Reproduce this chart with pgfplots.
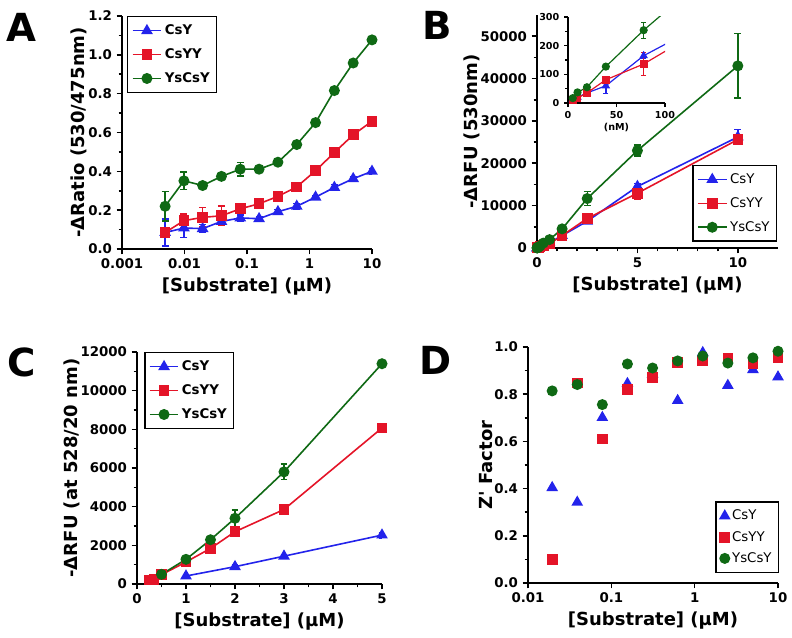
\documentclass[border=0pt]{standalone}
\usepackage{fontspec}
\setmainfont{DejaVu Sans}
\newfontfamily\plainfont[Ligatures=ResetAll]{DejaVu Sans}
\usepackage{pgfplots}
\usepackage{pgfplotstable}
\pgfplotsset{compat=1.18}
\definecolor{cblue}{RGB}{35,35,235}
\definecolor{cred}{RGB}{228,20,40}
\definecolor{cgreen}{RGB}{15,105,20}

\pgfplotstableread{
x      a      ea     b      eb     c      ec
0.0049 0.085  0.070  0.085  0.010  0.220  0.075
0.0098 0.108  0.050  0.146  0.035  0.351  0.045
0.0195 0.105  0.020  0.163  0.050  0.327  0.015
0.039  0.142  0.020  0.171  0.050  0.374  0.015
0.078  0.160  0.015  0.207  0.010  0.411  0.035
0.156  0.156  0.010  0.233  0.020  0.411  0.010
0.3125 0.192  0.010  0.271  0.010  0.447  0.010
0.625  0.220  0.015  0.320  0.010  0.538  0.010
1.25   0.267  0.010  0.403  0.010  0.651  0.010
2.5    0.317  0.015  0.497  0.010  0.816  0.010
5      0.362  0.012  0.588  0.010  0.958  0.010
10     0.400  0.015  0.658  0.010  1.077  0.010
}\dataA

\pgfplotstableread{
x      xn     a      ea     b      eb     c      ec
0.0049 4.9    12     3      9      2      17     3
0.0098 9.8    20     5      17     3      37     5
0.0195 19.5   35     5      35     5      55     8
0.039  39     60     28     81     12     127    8
0.078  78     165    10     136    40     254    28
0.156  156    305    20     292    20     480    30
0.3125 312.5  620    40     600    40     1150   60
0.625  625    1250   80     1020   80     1980   150
1.25   1250   2930   200    2930   150    4520   300
2.5    2500   6330   400    6980   500    11670  1600
5      5000   14520  700    12930  1500   23000  1300
10     10000  26200  1700   25600  800    43000  7600
}\dataB

\pgfplotstableread{
x    y     e
1    414   80
2    896   100
3    1440  80
5    2530  150
}\dataCa
\pgfplotstableread{
x    y     e
0.25 200   30
0.35 230   30
0.5  480   40
1    1140  60
1.5  1840  80
2    2705  100
3    3855  80
5    8072  80
}\dataCb
\pgfplotstableread{
x    y     e
0.5  500   40
1    1276  60
1.5  2290  150
2    3400  420
3    5800  400
5    11394 80
}\dataCc

\pgfplotstableread{
x      a      b      c
0.0195 0.404  0.099  0.814
0.039  0.342  0.848  0.841
0.078  0.701  0.610  0.756
0.156  0.845  0.821  0.928
0.3125 0.885  0.870  0.911
0.625  0.773  0.934  0.941
1.25   0.976  0.941  0.962
2.5    0.837  0.954  0.932
5      0.904  0.930  0.954
10     0.873  0.954  0.982
}\dataD

\pgfplotsset{
  panel/.style={
    scale only axis,
    axis x line*=bottom, axis y line*=left,
    axis line style={line width=1.4pt,-},
    tick align=outside,
    major tick length=4pt, minor tick length=2.5pt,
    tick style={black, line width=1.2pt},
    tick label style={font=\bfseries\fontsize{10}{12}\selectfont},
    label style={font=\bfseries\fontsize{13.5}{15}\selectfont},
    ylabel shift=-6pt,
    /pgf/number format/assume math mode=true,
    /pgf/number format/1000 sep={},
    scaled ticks=false,
    legend cell align=left,
    legend style={draw=black, line width=1.1pt, inner xsep=3pt, inner ysep=4pt,
      row sep=5pt, font=\fontsize{10}{12}\selectfont,
      /tikz/every even column/.append style={column sep=2pt}},
    legend image code/.code={\draw[mark repeat=2,mark phase=2] plot coordinates {(0cm,0cm) (0.38cm,0cm) (0.76cm,0cm)};},
    error bars/error bar style={line width=1pt, solid},
    error bars/error mark options={rotate=90, mark size=2.6pt, line width=1pt},
  },
  sA/.style={color=cblue, line width=1.2pt, mark=triangle*, mark size=3.9pt, mark options={solid}},
  sB/.style={color=cred, line width=1.2pt, mark=square*, mark size=3.4pt, mark options={solid}},
  sC/.style={color=cgreen, line width=1.2pt, mark=*, mark size=3.5pt, mark options={solid}},
}

\begin{document}
\begin{tikzpicture}
\path[use as bounding box] (0,0) rectangle (594pt,477.75pt);

% panel letters
\node[font=\bfseries\fontsize{29}{30}\selectfont] at (15.75pt,457.5pt) {A};
\node[font=\bfseries\fontsize{29}{30}\selectfont] at (327.75pt,459pt) {B};
\node[font=\bfseries\fontsize{29}{30}\selectfont] at (16.5pt,206.25pt) {C};
\node[font=\bfseries\fontsize{29}{30}\selectfont] at (327pt,207.75pt) {D};

% ---------- A ----------
\begin{axis}[panel,
  at={(91.5pt,291pt)}, anchor=south west,
  width=187.5pt, height=174.75pt,
  xmode=log, xmin=0.001, xmax=10, ymin=0, ymax=1.2,
  xtick={0.001,0.01,0.1,1,10}, xticklabels={0.001,0.01,0.1,1,10},
  xminorticks=false,
  ytick={0,0.2,...,1.2}, minor y tick num=1,
  yticklabel style={/pgf/number format/.cd, fixed, fixed zerofill, precision=1},
  xlabel={[Substrate] (µM)}, ylabel={-ΔRatio (530/475nm)},
  legend style={at={(0.02,1.0)}, anchor=north west, font=\bfseries\fontsize{10}{12}\selectfont},
]
\addplot[sA, error bars/.cd, y dir=both, y explicit] table[x=x, y=a, y error=ea] {\dataA};
\addlegendentry{CsY}
\addplot[sB, error bars/.cd, y dir=both, y explicit] table[x=x, y=b, y error=eb] {\dataA};
\addlegendentry{CsYY}
\addplot[sC, error bars/.cd, y dir=both, y explicit] table[x=x, y=c, y error=ec] {\dataA};
\addlegendentry{YsCsY}
\end{axis}

% ---------- B ----------
\begin{axis}[panel,
  at={(402.75pt,291.75pt)}, anchor=south west,
  width=180.75pt, height=174.75pt,
  xmin=0, xmax=12, ymin=0, ymax=55000,
  xtick={0,5,10}, minor x tick num=4,
  ytick={0,10000,...,50000}, minor y tick num=1,
  xlabel={[Substrate] (µM)}, ylabel={-ΔRFU (530nm)},
  legend style={at={(0.996,0.026)}, anchor=south east},
]
\addplot[sA, error bars/.cd, y dir=both, y explicit] table[x=x, y=a, y error=ea] {\dataB};
\addlegendentry{CsY}
\addplot[sB, error bars/.cd, y dir=both, y explicit] table[x=x, y=b, y error=eb] {\dataB};
\addlegendentry{CsYY}
\addplot[sC, error bars/.cd, y dir=both, y explicit] table[x=x, y=c, y error=ec] {\dataB};
\addlegendentry{YsCsY}
\end{axis}

% ---------- B inset ----------
\begin{axis}[panel,
  at={(426pt,400.5pt)}, anchor=south west,
  width=72.75pt, height=64.5pt,
  axis line style={line width=1.2pt,-},
  major tick length=3pt, minor tick length=2pt,
  tick style={black, line width=1pt},
  tick label style={font=\bfseries\fontsize{7.2}{8}\selectfont},
  ylabel shift=0pt,
  xmin=0, xmax=100, ymin=0, ymax=300,
  xtick={0,50,100}, ytick={0,100,200,300}, minor y tick num=1,
  xlabel={(nM)}, xlabel style={font=\bfseries\fontsize{7.2}{8}\selectfont, yshift=4pt},
  error bars/error mark options={rotate=90, mark size=1.8pt, line width=0.9pt},
]
\addplot[sA, mark size=2.8pt, line width=0.9pt, error bars/.cd, y dir=both, y explicit] table[x=xn, y=a, y error=ea] {\dataB};
\addplot[sB, mark size=2.5pt, line width=0.9pt, error bars/.cd, y dir=both, y explicit] table[x=xn, y=b, y error=eb] {\dataB};
\addplot[sC, mark size=2.6pt, line width=0.9pt, error bars/.cd, y dir=both, y explicit] table[x=xn, y=c, y error=ec] {\dataB};
\end{axis}

% ---------- C ----------
\begin{axis}[panel,
  at={(102.75pt,39.75pt)}, anchor=south west,
  width=183.75pt, height=174pt,
  xmin=0, xmax=5, ymin=0, ymax=12000,
  xtick={0,1,...,5}, minor x tick num=1,
  ytick={0,2000,...,12000}, minor y tick num=1,
  xlabel={[Substrate] (µM)}, ylabel={-ΔRFU (at 528/20 nm)},
  legend style={at={(0.029,1.0)}, anchor=north west, font=\bfseries\fontsize{10}{12}\selectfont},
]
\addplot[sA, error bars/.cd, y dir=both, y explicit] table[x=x, y=y, y error=e] {\dataCa};
\addlegendentry{CsY}
\addplot[sB, error bars/.cd, y dir=both, y explicit] table[x=x, y=y, y error=e] {\dataCb};
\addlegendentry{CsYY}
\addplot[sC, error bars/.cd, y dir=both, y explicit] table[x=x, y=y, y error=e] {\dataCc};
\addlegendentry{YsCsY}
\end{axis}

% ---------- D ----------
\begin{axis}[panel,
  at={(396pt,40.5pt)}, anchor=south west,
  width=187.5pt, height=177pt,
  xmode=log, xmin=0.01, xmax=10, ymin=0, ymax=1.0,
  xtick={0.01,0.1,1,10}, xticklabels={0.01,0.1,1,10},
  xminorticks=false,
  ytick={0,0.2,...,1.0}, minor y tick num=1,
  yticklabel style={/pgf/number format/.cd, fixed, fixed zerofill, precision=1},
  xlabel={[Substrate] (µM)}, ylabel={{\plainfont\bfseries Z' Factor}},
  legend style={at={(1.004,0.042)}, anchor=south east, row sep=3pt},
  legend image code/.code={\draw plot coordinates {(0cm,0cm)};},
]
\addplot[sA, only marks] table[x=x, y=a] {\dataD};
\addlegendentry{CsY}
\addplot[sB, only marks] table[x=x, y=b] {\dataD};
\addlegendentry{CsYY}
\addplot[sC, only marks] table[x=x, y=c] {\dataD};
\addlegendentry{YsCsY}
\end{axis}
\end{tikzpicture}
\end{document}
